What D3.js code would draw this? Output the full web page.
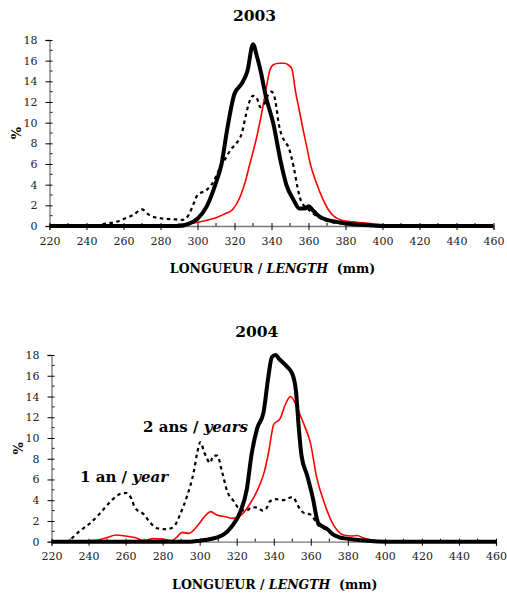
<!DOCTYPE html>
<html>
<head>
<meta charset="utf-8">
<script src="https://cdn.jsdelivr.net/npm/d3@7"></script>
<style>
  body { margin: 0; background: #fff; }
  svg { display: block; }
</style>
</head>
<body>
<svg id="chart" width="507" height="600"></svg>
<script>
// length (mm) / percent pairs
var xTicks = [220, 240, 260, 280, 300, 320, 340, 360, 380, 400, 420, 440, 460];
var yTicks = [0, 2, 4, 6, 8, 10, 12, 14, 16, 18];
var years = ["2003", "2004"];

var thick2003 = [[220,0],[290,0],[295,0.2],[300,0.7],[305,1.9],[310,4.2],[313,6],[316,9.3],[320,12.8],[324,13.8],[327,15],[330,17.6],[332,16.5],[334,15.1],[337,12.5],[341,9.9],[345,6.2],[348,4.0],[352,2.5],[355,1.7],[358,1.7],[360,1.9],[363,1.4],[366,0.9],[370,0.6],[375,0.4],[380,0.25],[388,0.12],[395,0.05],[400,0],[460,0]];
var red2003 = [[270,0],[290,0.15],[298,0.3],[305,0.55],[310,0.8],[315,1.2],[319,1.6],[323,2.8],[326,4.4],[328,5.8],[332,8.6],[335,11.2],[337,13.2],[339,15.0],[341,15.6],[344,15.75],[347,15.75],[349,15.6],[351,15.2],[353,13.0],[355,11.2],[357,9.4],[359,7.7],[361,6.0],[364,4.3],[368,2.5],[371,1.5],[374,0.9],[378,0.55],[384,0.4],[390,0.3],[395,0.2],[400,0.15],[405,0.05],[410,0],[460,0]];
var dash2003 = [[245,0],[251,0.25],[256,0.4],[261,0.75],[265,1.05],[270,1.6],[274,1.05],[280,0.75],[287,0.65],[292,0.6],[295,1.0],[298,2.2],[300,3.0],[305,3.5],[309,4.4],[312,5.6],[315,6.5],[318,7.4],[321,8.0],[324,9.0],[326,10.6],[328,12.0],[330,12.6],[332,12.4],[334,11.5],[336,11.8],[338,12.6],[340,13.0],[342,12.2],[344,9.8],[347,8.2],[349,7.7],[352,5.7],[354,3.8],[356,2.4],[360,1.6],[365,0.9],[370,0.5],[375,0.3],[380,0.2],[390,0.05],[400,0]];

var thick2004 = [[220,0],[295,0],[300,0.1],[306,0.26],[313,0.7],[317,1.4],[322,2.9],[325.5,5.1],[328,8.4],[331,10.9],[334.5,12.5],[337,15.8],[339,17.8],[341,18],[343,17.6],[347,16.9],[350,16.2],[352,14.5],[353.5,11],[355,8.3],[358,6.4],[361,4.3],[364,1.8],[366,1.5],[369,1.2],[372,0.7],[375,0.45],[381,0.26],[390,0.1],[400,0],[460,0]];
var red2004 = [[220,0],[235,0.05],[245,0.15],[250,0.4],[255,0.65],[260,0.55],[265,0.4],[270,0.1],[275,0.3],[280,0.25],[285,0.1],[288,0.5],[290.5,0.9],[294,0.8],[300,1.8],[303,2.5],[306,2.9],[309,2.6],[314,2.4],[318,2.25],[322,2.5],[325.5,3.2],[329,4.2],[332.5,5.5],[335,6.8],[337.2,8.6],[340,11.3],[343.5,11.9],[346.2,13.2],[349,14.0],[352.5,13.0],[354.3,12.2],[357,11],[359.7,9.6],[363.3,6.1],[367,3.9],[372.3,1.6],[377.7,0.65],[382,0.55],[385,0.6],[388.5,0.35],[395,0.1],[400,0],[460,0]];
var dash2004 = [[220,0],[228,0],[230,0.2],[235,1.0],[241,1.8],[246,2.7],[252,3.9],[257,4.6],[260,4.7],[263,4.2],[265,3.3],[270,2.6],[273,1.9],[277,1.3],[282,1.2],[286,1.45],[289.6,2.7],[293,4.3],[297,6.9],[298.6,8.5],[300.4,9.6],[302.5,8.6],[304,8.0],[305.5,7.6],[307.5,8.3],[309.5,8.3],[312,6.8],[315,4.8],[318,4.0],[322,3.1],[325.5,3.0],[328,3.3],[331,3.3],[334,3.0],[336,3.2],[338,3.9],[341,4.1],[345,4.0],[350,4.3],[354,3.2],[356,2.8],[360,2.6],[364,1.6],[367,1.3],[370,1.0],[375,0.45],[380,0.25],[390,0.1],[400,0]];

var panels = [
  { title: years[0], x0: 49.5, x1: 493.5, yTop: 40, yBot: 226, titleY: 21, series: [red2003, dash2003, thick2003] },
  { title: years[1], x0: 51.5, x1: 496, yTop: 355, yBot: 541.7, titleY: 336.5, series: [red2004, dash2004, thick2004] }
];

var serif = "DejaVu Serif, Liberation Serif, Noto Serif, serif";
var svg = d3.select("#chart");

var drawPanel = function (p, idx) {
  var g = svg.append("g").style("font-family", serif);
  var x = d3.scaleLinear().domain([220, 460]).range([p.x0, p.x1]);
  var y = d3.scaleLinear().domain([0, 18]).range([p.yBot, p.yTop]);

  // title
  g.append("text")
    .attr("x", (p.x0 + p.x1) / 2 - 17)
    .attr("y", p.titleY)
    .attr("text-anchor", "middle")
    .style("font-family", serif)
    .attr("font-size", "15.5px")
    .attr("font-weight", "bold")
    .text(p.title);

  // minor ticks (inside)
  var minorY = d3.range(1, 18, 2);
  g.selectAll(".my").data(minorY).enter().append("line")
    .attr("x1", p.x0).attr("x2", p.x0 + 3)
    .attr("y1", function (d) { return y(d) }).attr("y2", function (d) { return y(d) })
    .attr("stroke", "#000");
  var minorX = d3.range(230, 460, 20);
  g.selectAll(".mx").data(minorX).enter().append("line")
    .attr("x1", function (d) { return x(d) }).attr("x2", function (d) { return x(d) })
    .attr("y1", p.yBot).attr("y2", p.yBot - 3)
    .attr("stroke", "#000");

  // axes
  var yAxis = d3.axisLeft(y).tickValues(yTicks).tickSize(4).tickPadding(8);
  var ya = g.append("g").attr("transform", "translate(" + p.x0 + ",0)").call(yAxis);
  var xAxis = d3.axisBottom(x).tickValues(xTicks).tickSize(4).tickPadding(7);
  var xa = g.append("g").attr("transform", "translate(0," + p.yBot + ")").call(xAxis);
  [ya, xa].forEach(function (a) {
    a.attr("font-family", null);
    a.select(".domain").attr("stroke", "#777").attr("stroke-width", 1.3);
    a.selectAll(".tick line").attr("stroke", "#000");
    a.selectAll("text")
      .style("font-family", serif)
      .attr("font-size", "11px")
      .attr("fill", "#222");
  });
  // major ticks cross the axis
  ya.selectAll(".tick line").attr("x2", 3).attr("x1", -4);
  xa.selectAll(".tick line").attr("y1", -3).attr("y2", 4);

  // y label
  g.append("text")
    .attr("transform", "translate(" + (p.x0 - 29) + "," + ((p.yTop + p.yBot) / 2 + 0) + ") rotate(-90)")
    .attr("text-anchor", "middle")
    .style("font-family", serif)
    .attr("font-size", "13px")
    .attr("font-weight", "bold")
    .text("%");

  // x label
  var xl = g.append("text")
    .attr("x", (p.x0 + p.x1) / 2 + 1)
    .attr("y", p.yBot + 47)
    .attr("text-anchor", "middle")
    .style("font-family", serif)
    .attr("font-size", "12.5px")
    .attr("font-weight", "bold");
  xl.append("tspan").text("LONGUEUR / ");
  xl.append("tspan").attr("font-style", "italic").text("LENGTH");
  xl.append("tspan").text("\u00a0 (mm)");

  var line = d3.line()
    .x(function (d) { return x(d[0]) })
    .y(function (d) { return y(d[1]) })
    .curve(d3.curveMonotoneX);

  var styles = [
    { stroke: "#ff0000", width: 1.6, dash: null },
    { stroke: "#000", width: 2.2, dash: "3.5,3.5" },
    { stroke: "#000", width: 4, dash: null }
  ];
  p.series.forEach(function (s, i) {
    g.append("path")
      .datum(s)
      .attr("d", line)
      .attr("fill", "none")
      .attr("stroke", styles[i].stroke)
      .attr("stroke-width", styles[i].width)
      .attr("stroke-dasharray", styles[i].dash)
      .attr("stroke-linejoin", "round");
  });

  if (idx == 1) {
    var a1 = g.append("text").attr("x", 80).attr("y", 482)
      .style("font-family", serif)
      .attr("font-size", "15px").attr("font-weight", "bold");
    a1.append("tspan").text("1 an / ");
    a1.append("tspan").attr("font-style", "italic").text("year");
    var a2 = g.append("text").attr("x", 143).attr("y", 432)
      .style("font-family", serif)
      .attr("font-size", "15px").attr("font-weight", "bold");
    a2.append("tspan").text("2 ans / ");
    a2.append("tspan").attr("font-style", "italic").text("years");
  }
};

panels.forEach(drawPanel);
</script>
</body>
</html>
